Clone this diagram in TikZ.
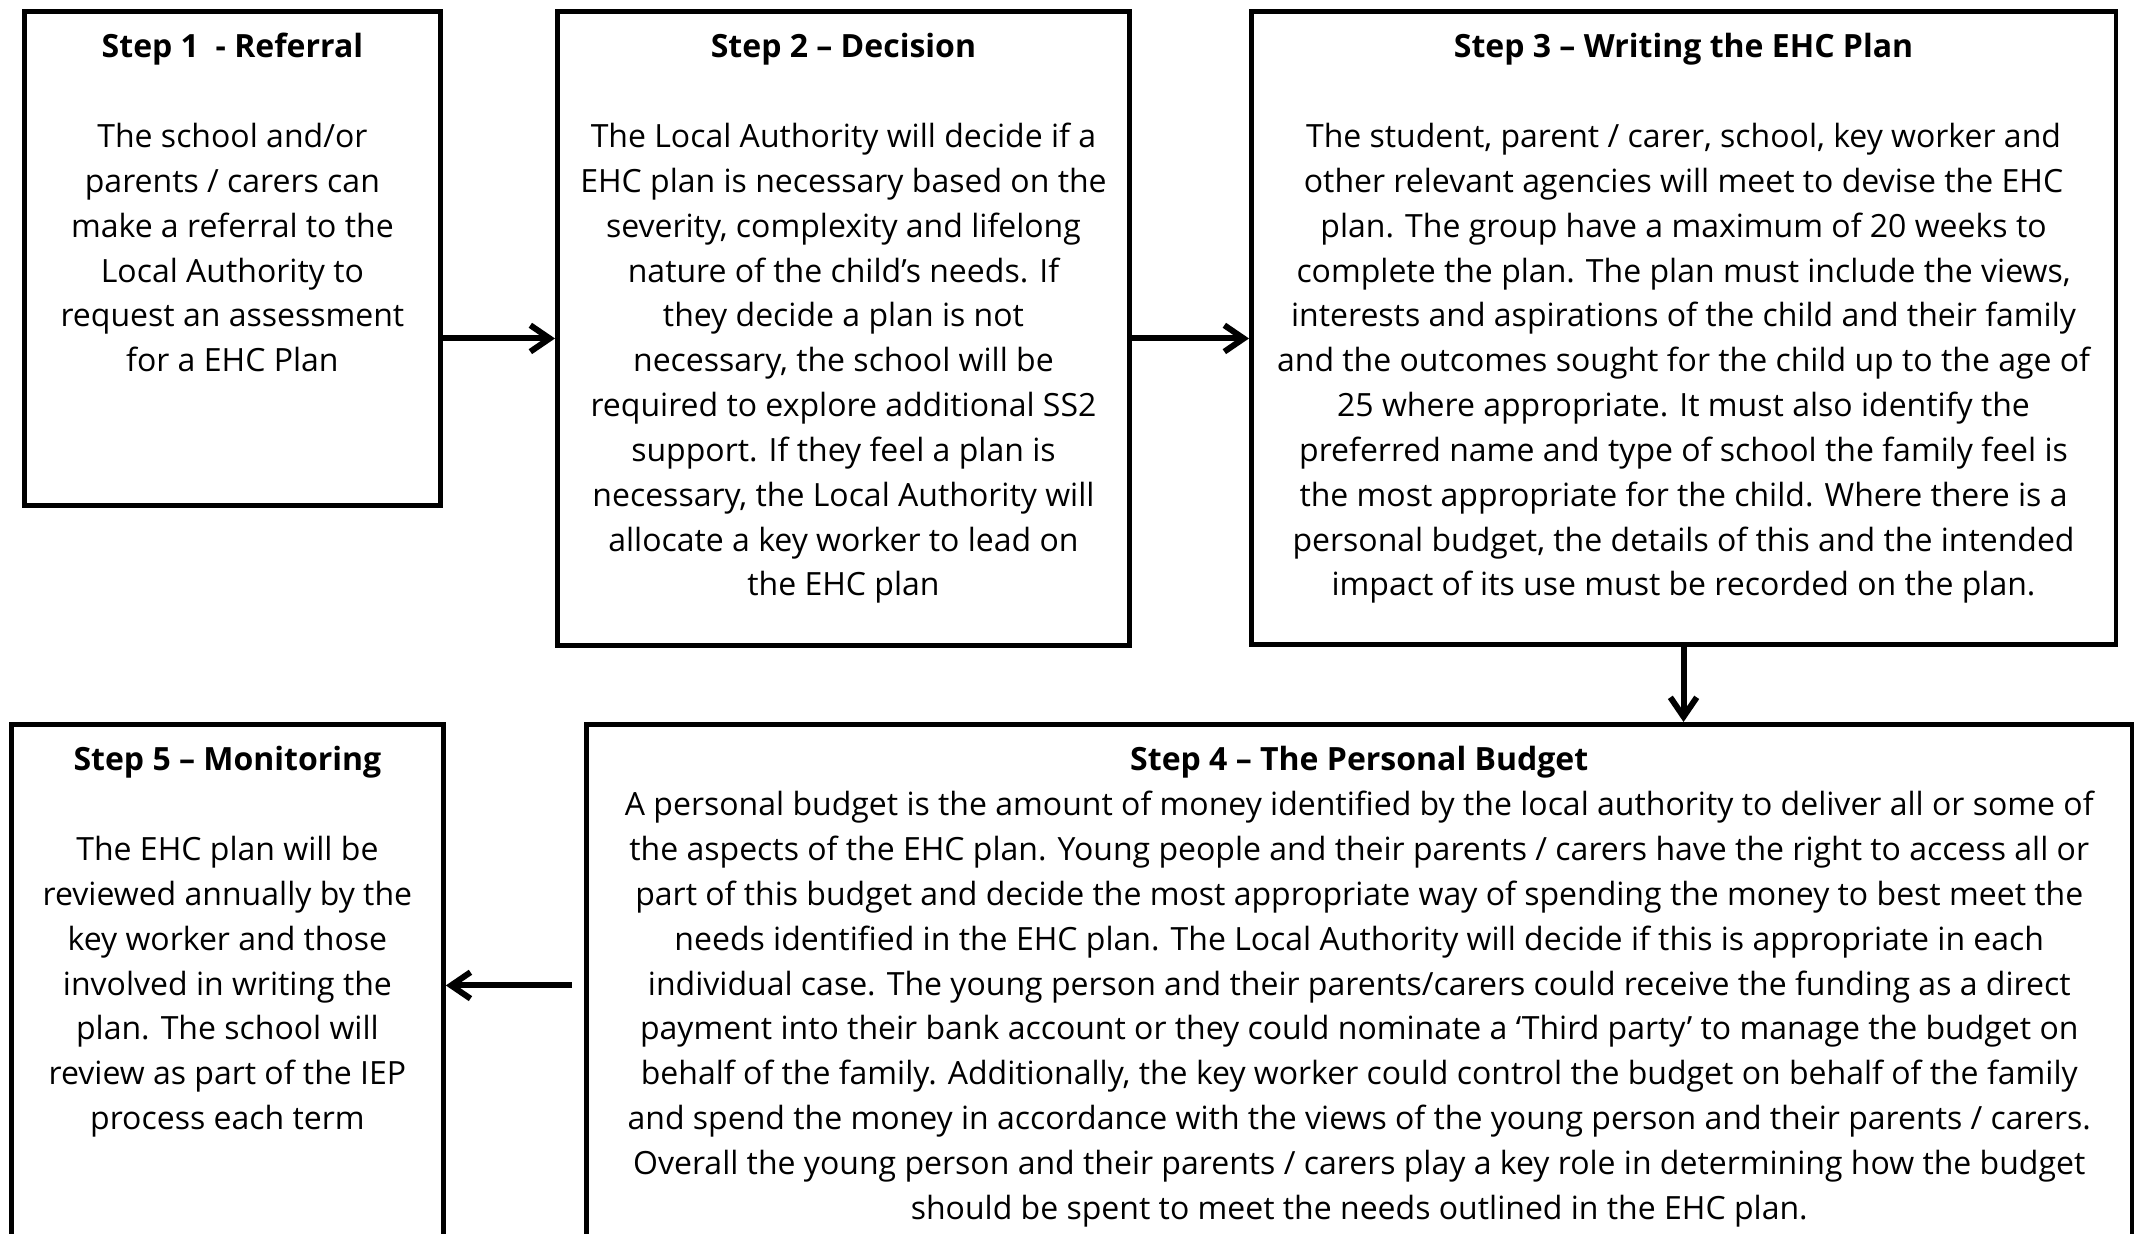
\documentclass[tikz,border=0pt]{standalone}
\usepackage{fontspec}
\setmainfont{Open Sans}
\usetikzlibrary{positioning, arrows.meta}

\begin{document}
\begin{tikzpicture}[
    x=0.01cm, y=-0.01cm,
    stepbox/.style={rectangle, draw=black, line width=1.3pt, inner sep=0pt,
                    anchor=north west},
    steptext/.style={align=center, inner sep=0pt,
                     font=\fontsize{9.1}{12.75}\selectfont},
    arrow/.style={-{Straight Barb[length=5.5pt, width=7.5pt]}, line width=1.7pt},
  ]
    \useasboundingbox (0,0) rectangle (2136,1234);

    % the five steps
    \node[stepbox, minimum width=4.16cm, minimum height=4.94cm] (S1) at (22,9) {};
    \node[stepbox, minimum width=5.72cm, minimum height=6.34cm] (S2) at (555,9) {};
    \node[stepbox, minimum width=8.64cm, minimum height=6.33cm] (S3) at (1249,9) {};
    \node[stepbox, minimum width=15.45cm, minimum height=5.22cm] (S4) at (584,722) {};
    \node[stepbox, minimum width=4.32cm, minimum height=5.22cm] (S5) at (9,722) {};

    \node[steptext, below=0.2cm of S1.north] (T1) {\rule{0pt}{8pt}\textbf{Step 1 \ - Referral}\\[12.75pt]
      The school and/or\\ parents / carers can\\ make a referral to the\\
      Local Authority to\\ request an assessment\\ for a EHC Plan};
    \node[steptext, below=0.2cm of S2.north] (T2) {\rule{0pt}{8pt}\textbf{Step 2 – Decision}\\[12.75pt]
      The Local Authority will decide if a\\ EHC plan is necessary based on the\\
      severity, complexity and lifelong\\ nature of the child’s needs. If\\
      they decide a plan is not\\ necessary, the school will be\\
      required to explore additional SS2\\ support. If they feel a plan is\\
      necessary, the Local Authority will\\ allocate a key worker to lead on\\
      the EHC plan};
    \node[steptext, below=0.2cm of S3.north] (T3) {\rule{0pt}{8pt}\textbf{Step 3 – Writing the EHC Plan}\\[12.75pt]
      The student, parent / carer, school, key worker and\\
      other relevant agencies will meet to devise the EHC\\
      plan. The group have a maximum of 20 weeks to\\
      complete the plan. The plan must include the views,\\
      interests and aspirations of the child and their family\\
      and the outcomes sought for the child up to the age of\\
      25 where appropriate. It must also identify the\\
      preferred name and type of school the family feel is\\
      the most appropriate for the child. Where there is a\\
      personal budget, the details of this and the intended\\
      impact of its use must be recorded on the plan.};
    \node[steptext, below=0.2cm of S4.north] (T4) {\rule{0pt}{8pt}\textbf{Step 4 – The Personal Budget}\\
      A personal budget is the amount of money identified by the local authority to deliver all or some of\\
      the aspects of the EHC plan. Young people and their parents / carers have the right to access all or\\
      part of this budget and decide the most appropriate way of spending the money to best meet the\\
      needs identified in the EHC plan. The Local Authority will decide if this is appropriate in each\\
      individual case. The young person and their parents/carers could receive the funding as a direct\\
      payment into their bank account or they could nominate a ‘Third party’ to manage the budget on\\
      behalf of the family. Additionally, the key worker could control the budget on behalf of the family\\
      and spend the money in accordance with the views of the young person and their parents / carers.\\
      Overall the young person and their parents / carers play a key role in determining how the budget\\
      should be spent to meet the needs outlined in the EHC plan.};
    \node[steptext, below=0.2cm of S5.north] (T5) {\rule{0pt}{8pt}\textbf{Step 5 – Monitoring}\\[12.75pt]
      The EHC plan will be\\ reviewed annually by the\\ key worker and those\\
      involved in writing the\\ plan. The school will\\ review as part of the IEP\\
      process each term};

    % arrows between the steps
    \coordinate (a12) at ([yshift=-0.1cm]S2.west);
    \coordinate (a23) at ([yshift=-0.1cm]S2.east);
    \draw[arrow] (S1.east |- a12) -- (a12);
    \draw[arrow] (a23) -- (S3.west |- a23);
    \draw[arrow] (S3.south) -- (S3.south |- S4.north);
    \draw[arrow, shorten <=0.12cm] (S4.west) -- (S5.east);
\end{tikzpicture}
\end{document}
